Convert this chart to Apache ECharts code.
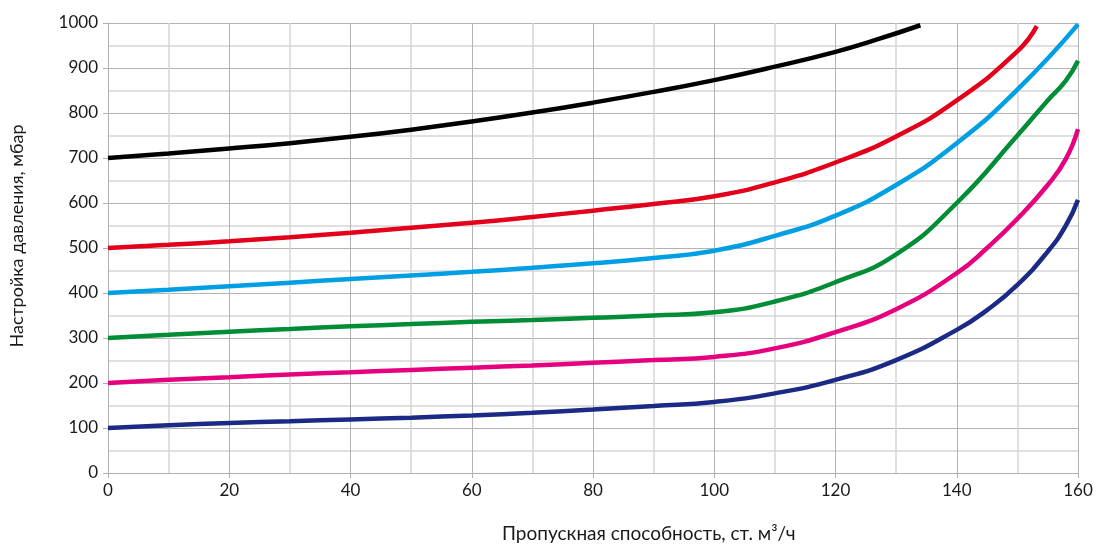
<!DOCTYPE html>
<html>
<head>
<meta charset="utf-8">
<script src="https://cdn.jsdelivr.net/npm/echarts@6/dist/echarts.min.js"></script>
<style>html,body{margin:0;padding:0;background:#fff}#c{width:1096px;height:544px}</style>
</head>
<body>
<div id="c"></div>
<script>
const xTitle = 'Пропускная способность, ст. м³/ч';
const yTitle = 'Настройка давления, мбар';
const seriesColors = ['#000000', '#e2001a', '#009fe3', '#008d36', '#e6007e', '#1b2a84'];
const curve700 = [[0,700],[10,710],[20,721],[30,733],[40,747],[50,763],[60,781],[70,801],[80,823],[90,847],[100,873],[110,903],[120,936],[127,964],[134,995]];
const curve500 = [[0,500],[10,507],[20,515],[30,524],[40,534],[50,545],[60,556],[70,569],[80,583],[90,598],[100,615],[110,646],[120,690],[130,748],[140,828],[150,937],[153.2,993]];
const curve400 = [[0,400],[10,407],[20,415],[30,423],[40,431],[50,439],[60,447],[70,456],[80,466],[90,478],[100,494],[110,527],[120,572],[130,640],[140,733],[150,852],[160,997]];
const curve300 = [[0,300],[10,307],[20,314],[30,320],[40,326],[50,331],[60,336],[70,340],[80,345],[90,350],[100,357],[110,381],[120,424],[130,486],[140,600],[150,750],[155,828],[158,872],[160,916]];
const curve200 = [[0,200],[10,207],[20,213],[30,219],[40,224],[50,229],[60,234],[70,239],[80,245],[90,251],[100,258],[110,277],[120,313],[130,364],[140,444],[145,500],[150,565],[155,640],[158,698],[160,764]];
const curve100 = [[0,100],[10,106],[20,111],[30,115],[40,119],[50,123],[60,128],[70,134],[80,141],[90,149],[100,158],[110,177],[120,207],[130,251],[140,318],[145,362],[150,418],[155,492],[158,550],[160,607]];
const allCurves = [curve700, curve500, curve400, curve300, curve200, curve100];

const chart = echarts.init(document.getElementById('c'));
const font = 'Lato, "Noto Sans", sans-serif';
chart.setOption({
  animation: false,
  grid: {left: 108, right: 18, top: 23, bottom: 71},
  title: {
    text: xTitle, left: 497, top: 519,
    textStyle: {fontFamily: font, fontSize: 19, fontWeight: 'normal', color: '#1a1a1a'}
  },
  xAxis: {
    type: 'value', min: 0, max: 160, interval: 20,
    axisLine: {show: true, lineStyle: {color: '#b0b0b0', width: 1}},
    axisTick: {show: true, length: 5, lineStyle: {color: '#b0b0b0'}},
    axisLabel: {fontFamily: font, fontSize: 17, color: '#1a1a1a', margin: 9},
    splitLine: {show: true, lineStyle: {color: '#b3b3b3', width: 1}},
    minorTick: {show: false, splitNumber: 2},
    minorSplitLine: {show: true, lineStyle: {color: '#d6d6d6', width: 1.5}}
  },
  yAxis: {
    type: 'value', min: 0, max: 1000, interval: 100,
    name: yTitle, nameLocation: 'middle', nameGap: 82,
    nameTextStyle: {fontFamily: font, fontSize: 18, color: '#1a1a1a', padding: [0, 0, 0, 24]},
    axisLine: {show: true, lineStyle: {color: '#b0b0b0', width: 1}},
    axisTick: {show: true, length: 5, lineStyle: {color: '#b0b0b0'}},
    axisLabel: {fontFamily: font, fontSize: 17, color: '#1a1a1a', margin: 10, formatter: v => String(v)},
    splitLine: {show: true, lineStyle: {color: '#b3b3b3', width: 1}},
    minorTick: {show: false, splitNumber: 2},
    minorSplitLine: {show: true, lineStyle: {color: '#d6d6d6', width: 1.5}}
  },
  series: allCurves.map((d, i) => ({
    type: 'line', data: d, smooth: 0.5, showSymbol: false, symbol: 'none',
    lineStyle: {color: seriesColors[i], width: 4.5}, itemStyle: {color: seriesColors[i]}
  }))
});
</script>
</body>
</html>
